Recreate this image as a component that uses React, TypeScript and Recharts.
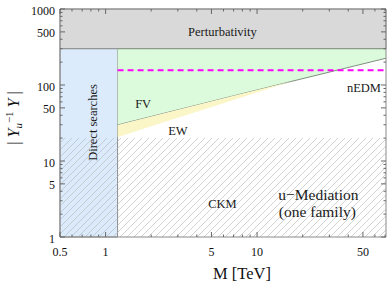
import React from 'react';
import { ComposedChart, XAxis, YAxis, Area, Line, ReferenceArea, ReferenceDot } from 'recharts';

// ---- data ----
const massTeV = [1.2, 2, 4, 7, 12, 17, 71];
const fvBound = [29.8, 38.5, 54.4, 72, 94, 112, 225];
const ewBound: (number | null)[] = [20.6, 28.6, 44.5, 63.7, 89.9, 112, null];
const nedmBound = [156, 156, 156, 156, 156, 156, 156];
const perturbativityBound = 300;
const directSearchMass = 1.2;
const ckmBound = 20;
const xDomain = [0.5, 71];
const yDomain = [1, 1000];
const xMajorTicks = [0.5, 1, 5, 10, 50];
const xMinorTicks = [0.6, 0.7, 0.8, 0.9, 2, 3, 4, 6, 7, 8, 9, 20, 30, 40, 60, 70];
const yMajorTicks = [1, 5, 10, 50, 100, 500, 1000];
const yMinorTicks = [2, 3, 4, 6, 7, 8, 9, 20, 30, 40, 60, 70, 80, 90, 200, 300, 400, 600, 700, 800, 900];
const regionLabelText = ['Perturbativity', 'Direct searches', 'FV', 'EW', 'nEDM', 'CKM', 'u\u2212Mediation', '(one family)'];
const regionLabelMass = [5.91, 0.884, 1.77, 3.0, 50.8, 5.91, 25.4, 25.0];
const regionLabelY = [435, 32.1, 49.8, 22.0, 82.1, 2.41, 3.1, 1.85];

const rows = massTeV.map((m, i) => ({
  m,
  fvBand: [fvBound[i], perturbativityBound],
  ewBand: ewBound[i] == null ? null : [ewBound[i], fvBound[i]],
  nedm: nedmBound[i],
}));

const xTicks = [...xMajorTicks, ...xMinorTicks].sort((a, b) => a - b);
const yTicks = [...yMajorTicks, ...yMinorTicks].sort((a, b) => a - b);

// ---- styles ----
const SERIF = "'Liberation Serif', 'Times New Roman', serif";
const FRAME = '#8a8a8a';
const TICK = '#666';
const TM = 2;
const labelSize: Record<string, number> = { 'u\u2212Mediation': 15.5, '(one family)': 15.5 };

const BottomTick = (p: any) => {
  const base = p.y - TM;
  const major = xMajorTicks.includes(p.payload.value);
  return (
    <g>
      <line x1={p.x} x2={p.x} y1={base} y2={base - (major ? 5 : 2.5)} stroke={TICK} />
      {major && (
        <text x={p.x} y={base + 19} textAnchor="middle" fontSize={12} fontFamily={SERIF} fill="#111">
          {String(p.payload.value)}
        </text>
      )}
    </g>
  );
};
const TopTick = (p: any) => {
  const base = p.y + TM;
  const major = xMajorTicks.includes(p.payload.value);
  return <line x1={p.x} x2={p.x} y1={base} y2={base + (major ? 5 : 2.5)} stroke={TICK} />;
};
const LeftTick = (p: any) => {
  const base = p.x + TM;
  const major = yMajorTicks.includes(p.payload.value);
  return (
    <g>
      <line x1={base} x2={base + (major ? 5 : 2.5)} y1={p.y} y2={p.y} stroke={TICK} />
      {major && (
        <text x={base - 5} y={p.y + 5.5} textAnchor="end" fontSize={12} fontFamily={SERIF} fill="#111">
          {String(p.payload.value)}
        </text>
      )}
    </g>
  );
};
const RightTick = (p: any) => {
  const base = p.x - TM;
  const major = yMajorTicks.includes(p.payload.value);
  return <line x1={base} x2={base - (major ? 5 : 2.5)} y1={p.y} y2={p.y} stroke={TICK} />;
};

const makeLabel = (text: string) => (p: any) => {
  const size = labelSize[text] ?? 12.5;
  const rotated = text === 'Direct searches';
  return (
    <text
      x={p.cx}
      y={p.cy}
      textAnchor="middle"
      fontSize={size}
      fontFamily={SERIF}
      fill="#1a1a1a"
      transform={rotated ? `rotate(-90 ${p.cx} ${p.cy})` : undefined}
    >
      {text}
    </text>
  );
};

export default function App() {
  return (
    <div style={{ position: 'absolute', left: 0, top: 0, width: 390, height: 290 }}>
      <svg width={0} height={0} style={{ position: 'absolute' }}>
        <defs>
          <pattern id="ckmHatch" patternUnits="userSpaceOnUse" width={7} height={7}>
            <path d="M-1,1 l2,-2 M0,7 l7,-7 M6,8 l2,-2" stroke="#b4b4b4" strokeWidth={0.6} />
          </pattern>
        </defs>
      </svg>
      <ComposedChart width={390} height={290} data={rows} margin={{ top: 8, right: 3, bottom: 23, left: 10 }}>
        <ReferenceArea
          x1={xDomain[0]} x2={xDomain[1]} y1={perturbativityBound} y2={yDomain[1]}
          fill="#d9d9d9" fillOpacity={1} stroke="#999" strokeWidth={1}
        />
        <ReferenceArea
          x1={xDomain[0]} x2={directSearchMass} y1={yDomain[0]} y2={perturbativityBound}
          fill="#dcebfc" fillOpacity={1} stroke={FRAME} strokeWidth={1}
        />
        <Area dataKey="fvBand" type="linear" fill="#dcfadc" fillOpacity={1} stroke="#7f8f7f" strokeWidth={1} isAnimationActive={false} dot={false} activeDot={false} />
        <Area dataKey="ewBand" type="linear" fill="#fbf6c8" fillOpacity={1} stroke="none" isAnimationActive={false} dot={false} activeDot={false} />
        <ReferenceArea
          x1={xDomain[0]} x2={xDomain[1]} y1={yDomain[0]} y2={ckmBound}
          fill="url(#ckmHatch)" fillOpacity={1} stroke="none"
        />
        <Line dataKey="nedm" type="linear" stroke="#ff00ff" strokeWidth={2} strokeDasharray="6 4" dot={false} activeDot={false} isAnimationActive={false} />
        {regionLabelText.map((t, i) => (
          <ReferenceDot key={t} x={regionLabelMass[i]} y={regionLabelY[i]} r={0} shape={makeLabel(t)} />
        ))}
        <XAxis
          dataKey="m" type="number" scale="log" domain={xDomain} allowDataOverflow ticks={xTicks} interval={0}
          tickSize={0} tickMargin={TM} tickLine={false} axisLine={{ stroke: FRAME }} tick={<BottomTick />} height={30}
        />
        <XAxis
          xAxisId="top" orientation="top" dataKey="m" type="number" scale="log" domain={xDomain} allowDataOverflow ticks={xTicks}
          interval={0} tickSize={0} tickMargin={TM} tickLine={false} axisLine={{ stroke: FRAME }} tick={<TopTick />} height={1}
        />
        <YAxis
          type="number" scale="log" domain={yDomain} allowDataOverflow ticks={yTicks} interval={0}
          tickSize={0} tickMargin={TM} tickLine={false} axisLine={{ stroke: FRAME }} tick={<LeftTick />} width={50}
        />
        <YAxis
          yAxisId="right" orientation="right" type="number" scale="log" domain={yDomain} allowDataOverflow ticks={yTicks}
          interval={0} tickSize={0} tickMargin={TM} tickLine={false} axisLine={{ stroke: FRAME }} tick={<RightTick />} width={1}
        />
      </ComposedChart>
      <svg width={390} height={290} style={{ position: 'absolute', left: 0, top: 0, pointerEvents: 'none' }}>
        <text x={242} y={279} textAnchor="middle" fontSize={16.5} fontFamily={SERIF} fill="#111">M [TeV]</text>
        <text x={18.5} y={118} textAnchor="middle" fontSize={16} fontFamily={SERIF} fill="#111" transform="rotate(-90 18.5 118)">
          {'| '}
          <tspan fontStyle="italic">Y</tspan>
          <tspan fontStyle="italic" fontSize={11} dy={3}>u</tspan>
          <tspan fontSize={11} dy={-9}>{'\u22121'}</tspan>
          <tspan fontStyle="italic" dy={6}>{' Y'}</tspan>
          {' |'}
        </text>
      </svg>
    </div>
  );
}
